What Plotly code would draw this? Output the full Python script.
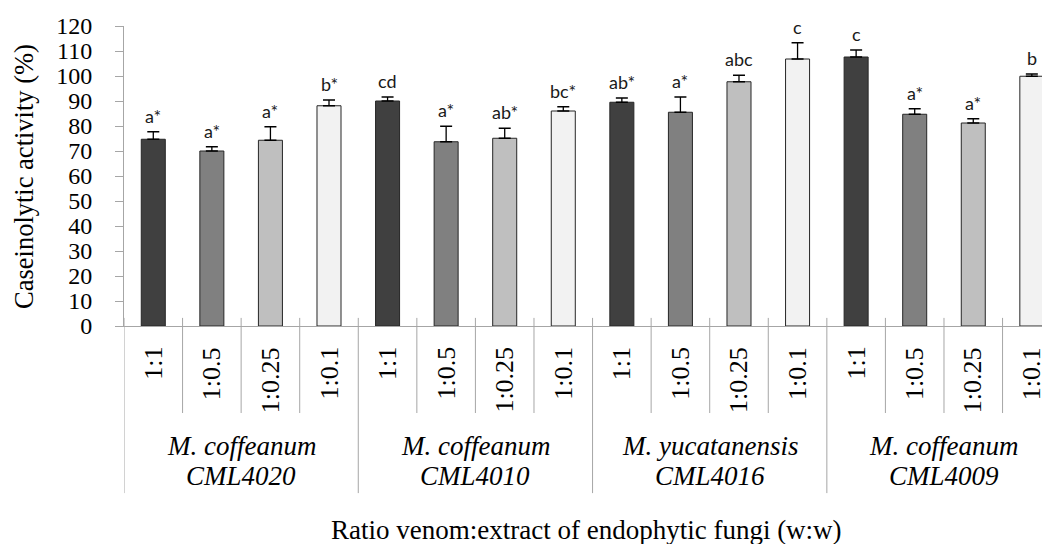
import plotly.graph_objects as go

species = ["M. coffeanum", "M. coffeanum", "M. yucatanensis", "M. coffeanum"]
strains = ["CML4020", "CML4010", "CML4016", "CML4009"]
ratios = ["1:1", "1:0.5", "1:0.25", "1:0.1"]
values = [74.7, 70.0, 74.3, 88.1,
          90.0, 73.7, 75.1, 86.0,
          89.5, 85.5, 97.7, 106.8,
          107.6, 84.7, 81.2, 99.9]
errors = [3.0, 1.7, 5.4, 2.3,
          1.6, 6.2, 4.0, 1.7,
          1.7, 6.1, 2.6, 6.5,
          2.8, 2.2, 1.7, 0.9]
letters = ["a*", "a*", "a*", "b*",
           "cd", "a*", "ab*", "bc*",
           "ab*", "a*", "abc", "c",
           "c", "a*", "a*", "b"]
ratio_colors = ["#404040", "#808080", "#bfbfbf", "#f2f2f2"]

n = len(values)
xs = list(range(n))
colors = [ratio_colors[i % 4] for i in xs]

fig = go.Figure()
fig.add_trace(go.Bar(
    x=xs, y=values, width=0.41,
    marker=dict(color=colors, line=dict(color="#262626", width=1)),
    error_y=dict(type="data", array=errors, arrayminus=[0] * n, symmetric=False,
                 color="black", thickness=1.3, width=6),
    showlegend=False, hoverinfo="skip"))

serif = "Liberation Serif"
grid = "#a6a6a6"
shapes = []
annotations = []

# category separators below the axis
for k in range(n + 1):
    bottom = -0.557 if k % 4 == 0 else -0.29
    shapes.append(dict(type="line", xref="x", yref="paper", x0=k - 0.5, x1=k - 0.5,
                       y0=0.027, y1=bottom, line=dict(color=grid, width=1)))

# ratio labels
for i in xs:
    annotations.append(dict(x=i, y=-0.063, xref="x", yref="paper", text=ratios[i % 4],
                            textangle=-90, showarrow=False, xanchor="center", yanchor="top",
                            font=dict(family=serif, size=26, color="black")))
# group labels (two lines)
for g in range(len(species)):
    annotations.append(dict(x=g * 4 + 1.5, y=-0.40, xref="x", yref="paper",
                            text="<i>" + species[g] + "</i>", showarrow=False,
                            xanchor="center", yanchor="middle",
                            font=dict(family=serif, size=27, color="black")))
    annotations.append(dict(x=g * 4 + 1.5, y=-0.50, xref="x", yref="paper",
                            text="<i>" + strains[g] + "</i>", showarrow=False,
                            xanchor="center", yanchor="middle",
                            font=dict(family=serif, size=27, color="black")))
# significance letters
for i in xs:
    annotations.append(dict(x=i, y=values[i] + errors[i], xref="x", yref="y",
                            text=letters[i], showarrow=False, xanchor="center",
                            yanchor="bottom", yshift=3,
                            font=dict(family="Lato", size=18, color="#1a1a1a")))
# axis titles
annotations.append(dict(x=-0.108, y=0.5, xref="paper", yref="paper",
                        text="Caseinolytic activity (%)", textangle=-90, showarrow=False,
                        xanchor="center", yanchor="middle",
                        font=dict(family=serif, size=26.5, color="black")))
annotations.append(dict(x=0.4995, y=-0.68, xref="paper", yref="paper",
                        text="Ratio venom:extract of endophytic fungi (w:w)", showarrow=False,
                        xanchor="center", yanchor="middle",
                        font=dict(family=serif, size=27, color="black")))

fig.update_layout(
    width=1042, height=536,
    margin=dict(l=116, r=0, t=18, b=218),
    paper_bgcolor="white", plot_bgcolor="white",
    font=dict(family=serif),
    xaxis=dict(range=[-0.5, 15.31], showticklabels=False, ticks="", showgrid=False,
               zeroline=False, showline=True, linecolor=grid, linewidth=1, fixedrange=True),
    yaxis=dict(range=[0, 120], dtick=10, tick0=0, ticks="outside", ticklen=8,
               tickcolor=grid, showgrid=False, zeroline=False, showline=True,
               linecolor=grid, linewidth=1, ticklabelstandoff=18,
               tickfont=dict(family=serif, size=24, color="black"), fixedrange=True),
    shapes=shapes, annotations=annotations,
)

fig.write_html("out.html")
